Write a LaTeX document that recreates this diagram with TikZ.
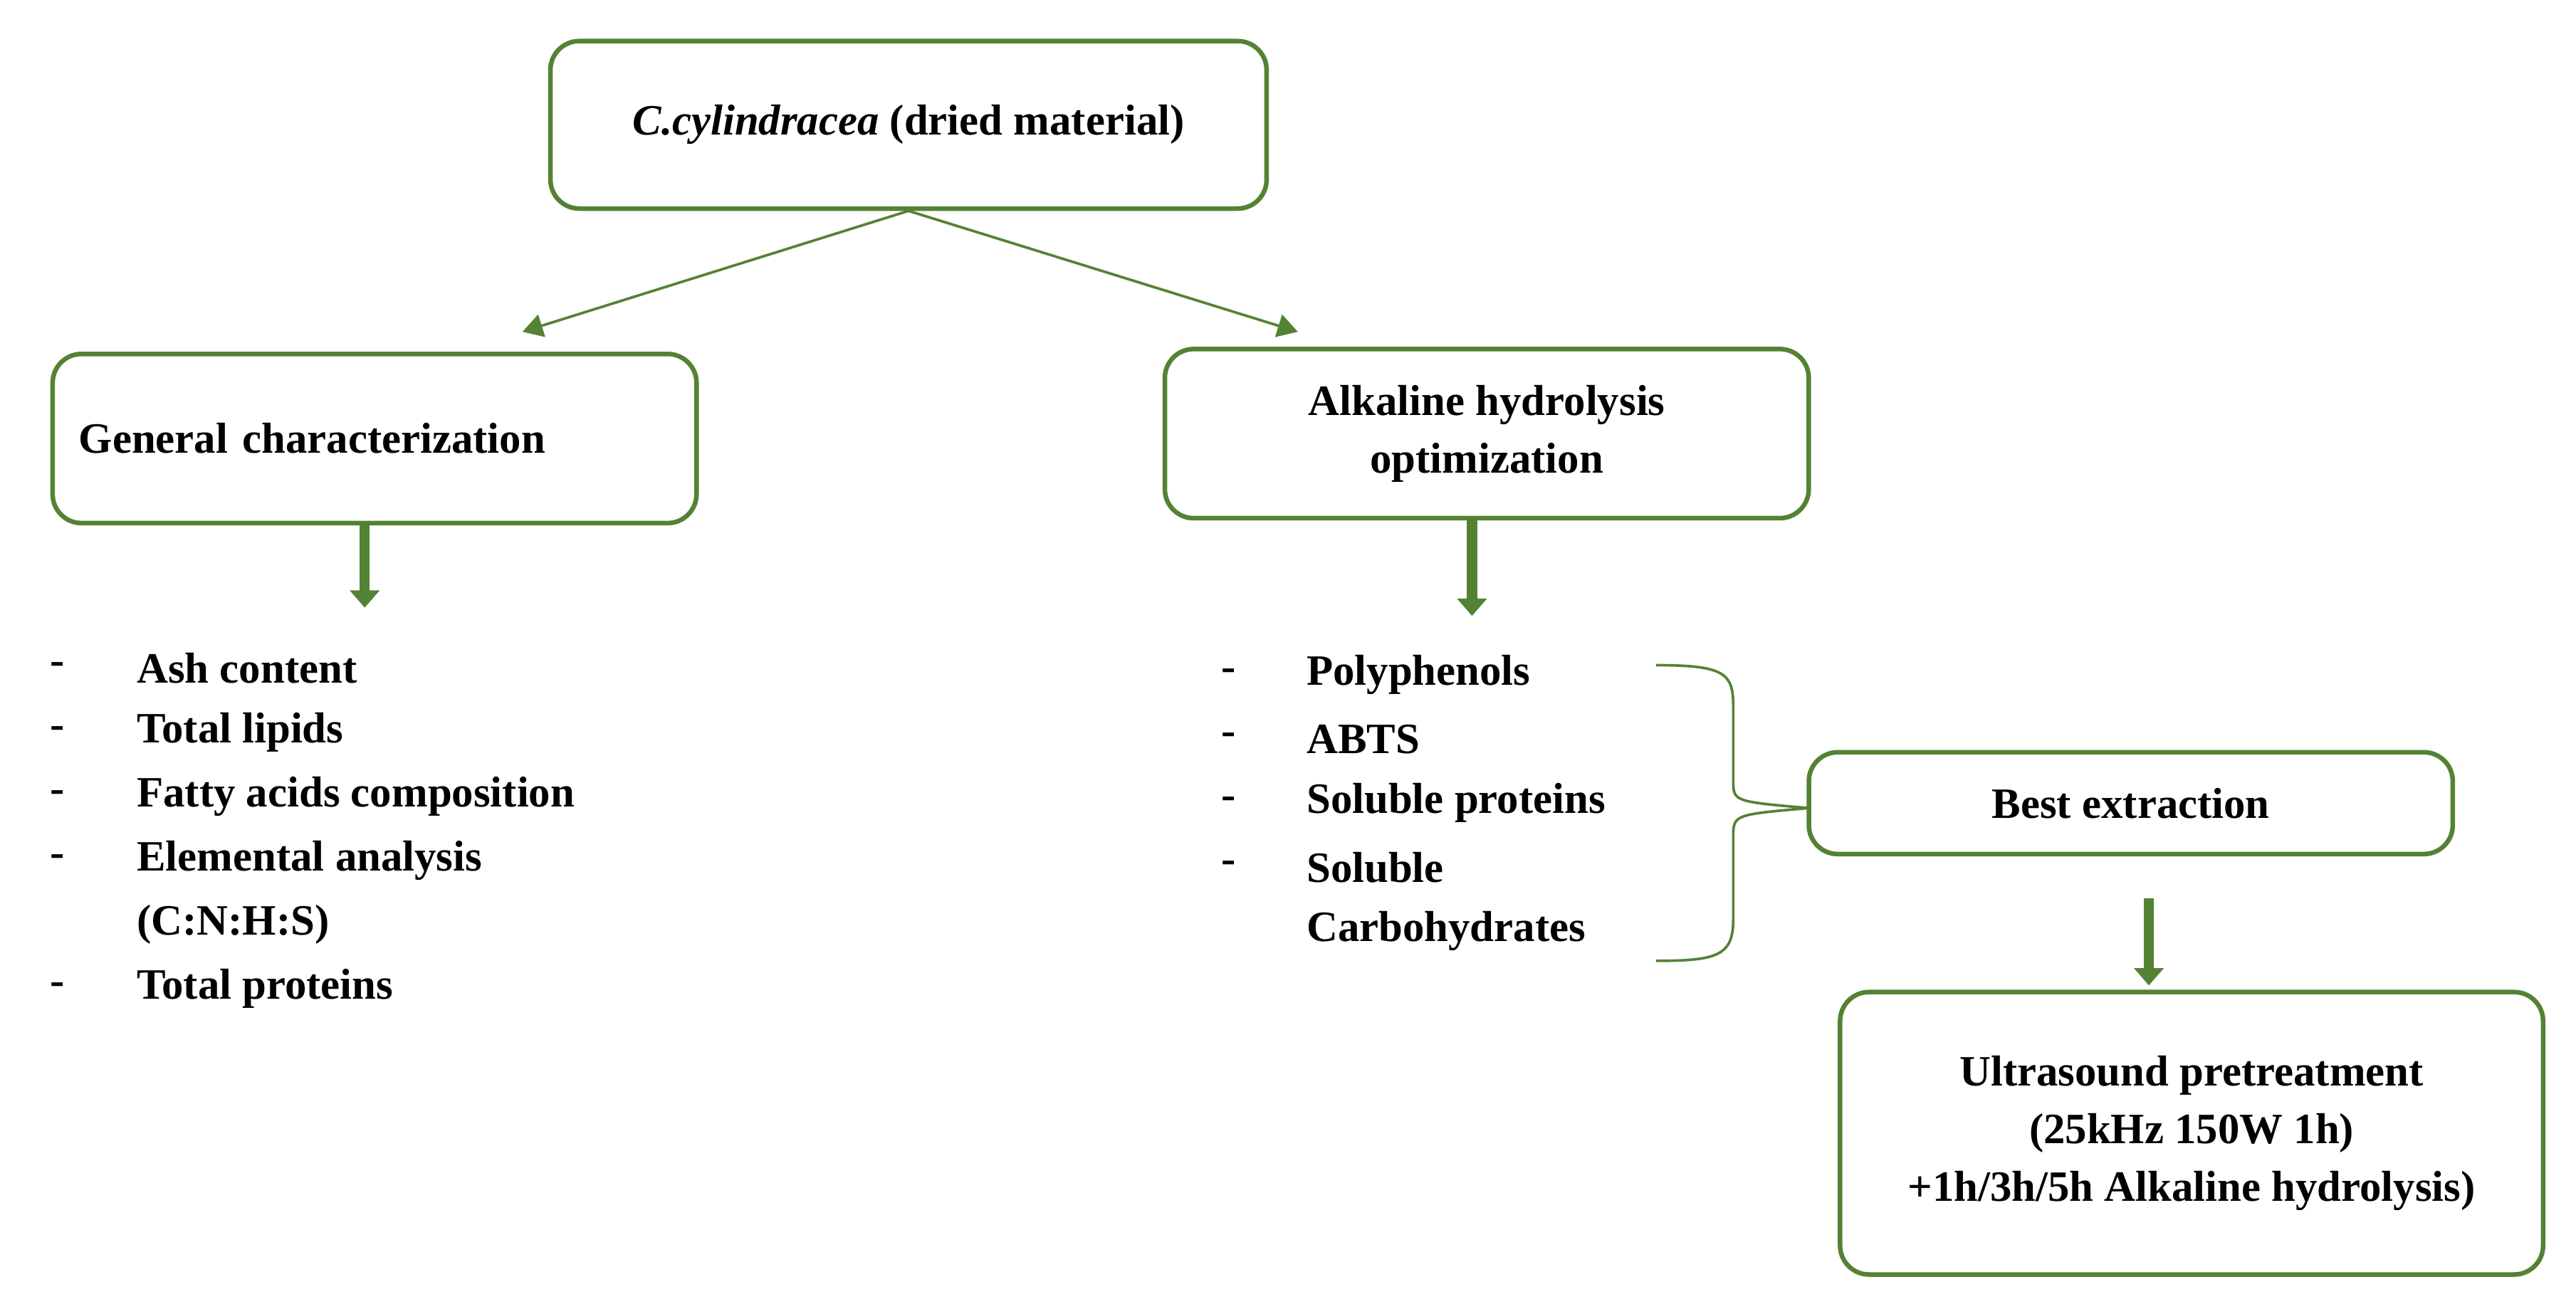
\documentclass[tikz,border=0pt]{standalone}
\usepackage{fontspec}
\setmainfont{Liberation Serif}
\usetikzlibrary{arrows.meta}
\definecolor{gr}{RGB}{84,130,53}
\begin{document}
\begin{tikzpicture}[x=0.02cm,y=-0.02cm,
 box/.style={draw=gr,line width=1.6pt,rounded corners=10pt,align=center,font=\fontsize{15}{20}\selectfont\bfseries},
 txt/.style={anchor=west,font=\fontsize{15}{18}\selectfont\bfseries,inner sep=0pt},
 thin/.style={draw=gr,line width=0.9pt,-{Triangle[length=7pt,width=8pt]}},
 thick/.style={draw=gr,line width=3.5pt,-{Triangle[length=6pt,width=10pt]}}]
\useasboundingbox (0,0) rectangle (1568,800);
\node[box,minimum width=436\pgflinewidth*0+8.72cm,minimum height=2.04cm] (top) at (553,76) {\textit{C.cylindracea} (dried material)};
\node[box,minimum width=7.84cm,minimum height=2.06cm,text width=7.2cm,align=left] (gen) at (228,267) {General characterization};
\node[box,minimum width=7.84cm,minimum height=2.06cm] (alk) at (905,264) {Alkaline hydrolysis\\optimization};
\node[box,minimum width=7.84cm,minimum height=1.24cm] (best) at (1297,489) {Best extraction};
\node[box,minimum width=8.56cm,minimum height=3.44cm] (us) at (1334,690) {Ultrasound pretreatment\\(25kHz 150W 1h)\\+1h/3h/5h Alkaline hydrolysis)};
\coordinate (l1) at (318,202); \coordinate (r1) at (790,202);
\draw[thin] (top.south) -- (l1);
\draw[thin] (top.south) -- (r1);
\coordinate (g2) at (222,370); \coordinate (a2) at (896,375); \coordinate (b2) at (1308,600);
\draw[thick] (gen.south -| g2) -- (g2);
\draw[thick] (alk.south -| a2) -- (a2);
\draw[thick] (1308,547) -- (b2);
\foreach \y/\t in {407/Ash content,446/Total lipids,485/Fatty acids composition,524/Elemental analysis,602/Total proteins}{
 \node[txt] at (30,\y) {-}; \node[txt] at (83,\y) {\t};}
\node[txt] at (83,563) {(C:N:H:S)};
\foreach \y/\t in {411/Polyphenols,450/ABTS,489/Soluble proteins,528/Soluble}{
 \node[txt] at (743,\y) {-}; \node[txt] at (795,\y) {\t};}
\node[txt] at (795,567) {Carbohydrates};
\draw[gr,line width=0.9pt] (1008,405) .. controls (1050,405) and (1055,410) .. (1055,430) -- (1055,475) .. controls (1055,488) .. (1101,492) .. controls (1055,496) .. (1055,510) -- (1055,560) .. controls (1055,582) and (1045,585) .. (1008,585);
\end{tikzpicture}
\end{document}
